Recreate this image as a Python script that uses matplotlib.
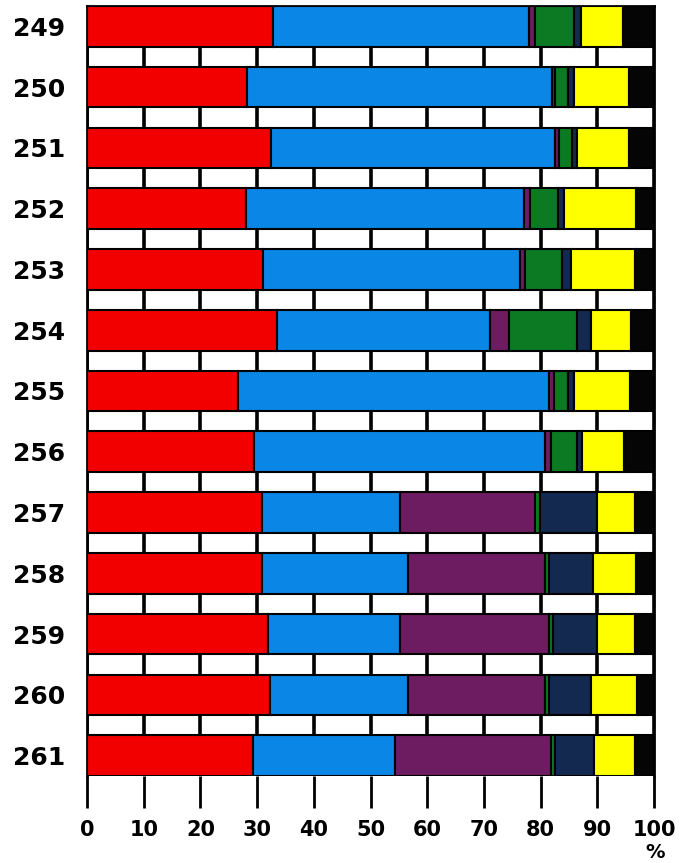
import numpy as np
import matplotlib.pyplot as plt

years = ['249', '250', '251', '252', '253', '254', '255',
         '256', '257', '258', '259', '260', '261']

red    = [32.8, 28.3, 32.5, 28.1, 31.0, 33.5, 26.6, 29.4, 30.8, 30.8, 32.0, 32.3, 29.3]
blue   = [45.1, 53.7, 50.0, 49.0, 45.3, 37.5, 54.9, 51.4, 24.4, 25.8, 23.2, 24.3, 25.0]
purple = [1.1, 0.5, 0.8, 1.0, 1.0, 3.5, 0.8, 1.0, 23.9, 24.2, 26.3, 24.2, 27.5]
green  = [6.9, 2.3, 2.2, 4.9, 6.5, 12.0, 2.5, 4.7, 0.8, 0.7, 0.6, 0.6, 0.7]
navy   = [1.2, 1.1, 0.9, 1.2, 1.5, 2.4, 1.1, 0.8, 10.0, 7.7, 7.8, 7.5, 6.9]
yellow = [7.5, 9.7, 9.2, 12.6, 11.3, 7.1, 9.9, 7.4, 6.7, 7.6, 6.7, 8.1, 7.2]
black  = [5.4, 4.4, 4.4, 3.2, 3.4, 4.0, 4.2, 5.3, 3.4, 3.2, 3.4, 3.0, 3.4]

series = [red, blue, purple, green, navy, yellow, black]
colors = ['#f20000', '#0a86e6', '#6e1c62', '#0c7a22', '#13294f', '#ffff00', '#050505']

fig = plt.figure(figsize=(6.91, 8.63), dpi=100)
ax = fig.add_axes([87/691, 1 - 776/863, (654-87)/691, (776-6)/863])

y = np.arange(len(years))
h = 0.67
left = np.zeros(len(years))
for vals, c in zip(series, colors):
    ax.barh(y, vals, left=left, height=h, color=c, edgecolor='black',
            linewidth=1.5, zorder=3)
    left += np.array(vals)

for xv in range(0, 101, 10):
    ax.axvline(xv, color='black', lw=2.6, zorder=1)

ax.set_xlim(0, 100)
ax.set_ylim(len(years) - 1 + h/2, -h/2)
ax.set_yticks(y)
ax.set_yticklabels(years, fontsize=18, fontweight='bold')
ax.tick_params(axis='y', length=0, pad=16)
ax.set_xticks(range(0, 101, 10))
ax.set_xticklabels([str(v) for v in range(0, 101, 10)], fontsize=15, fontweight='bold')
ax.tick_params(axis='x', direction='out', length=23, width=2, pad=9)
for s in ax.spines.values():
    s.set_linewidth(2)
    s.set_color('black')
ax.spines['bottom'].set_visible(False)

fig.text(655/691, 1 - 852/863, '%', fontsize=14, fontweight='bold',
         ha='center', va='center')

fig.savefig('out.png', dpi=100)
